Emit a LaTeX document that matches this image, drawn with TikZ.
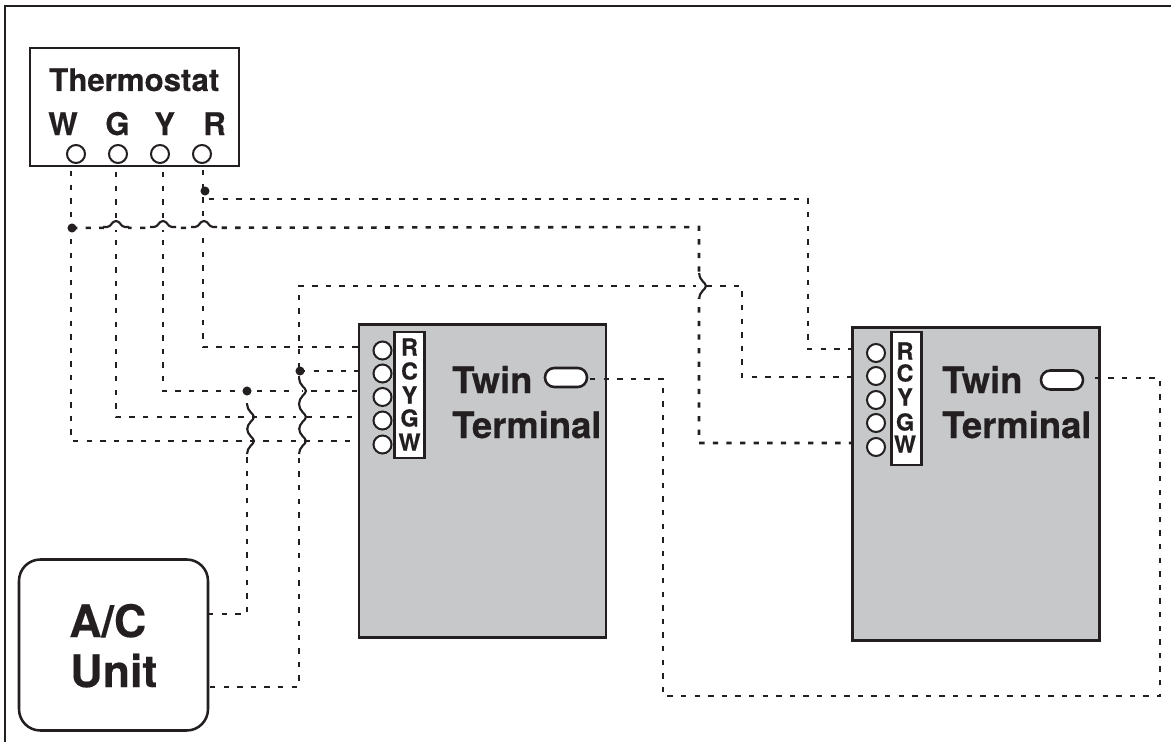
\documentclass[tikz,border=0pt]{standalone}
\usepackage{fontspec}
\setmainfont[BoldFeatures={FakeBold=0.35}]{TeX Gyre Heros}
\definecolor{ink}{HTML}{231F20}
\definecolor{panel}{HTML}{C6C8CA}
\newcommand{\vjump}[2]{%
  \fill[white] (#1-3,#2-12) rectangle (#1+3,#2+12);
  \draw[jump] (#1,#2-13) .. controls (#1,#2-6) and (#1+7,#2-3) .. (#1+7,#2) .. controls (#1+7,#2+3) and (#1,#2+6) .. (#1,#2+13);}
\newcommand{\hjump}[2]{%
  \fill[white] (#1-12,#2-3) rectangle (#1+12,#2+3);
  \draw[jump] (#1-13,#2) -- (#1-9,#2) .. controls (#1-5,#2) and (#1-4,#2-6) .. (#1,#2-6) .. controls (#1+4,#2-6) and (#1+5,#2) .. (#1+9,#2) -- (#1+13,#2);}
\tikzset{
  wire/.style={line width=1.9pt,ink,dash pattern=on 4pt off 6.2pt},
  jump/.style={line width=1.6pt,ink},
  boxed/.style={draw=ink,line width=1.9pt,inner sep=0pt,outer sep=0pt},
  port/.style={circle,draw=ink,fill=white,line width=1.5pt,minimum size=13.5pt,inner sep=0pt},
  dotmark/.style={circle,fill=ink,inner sep=0pt,minimum size=6.8pt},
  lab/.style={text=ink,font=\bfseries,inner sep=0pt,anchor=base west},
  big/.style={lab,font=\fontsize{27.3}{27}\selectfont\bfseries},
  huge/.style={lab,font=\fontsize{33.5}{33}\selectfont\bfseries},
  therm/.style={lab,font=\fontsize{23.4}{24}\selectfont\bfseries},
  pin/.style={text=ink,font=\fontsize{17.5}{18}\selectfont\bfseries,inner sep=0pt,anchor=center},
  panelbox/.style={boxed,fill=panel,minimum width=185.25pt,minimum height=234.75pt},
  strip/.style={boxed,fill=white,minimum width=22.5pt},
  slot/.style={boxed,fill=white,minimum width=31.5pt,minimum height=14.25pt,rounded corners=7pt},
}
\begin{document}
\begin{tikzpicture}[x=0.75pt,y=-0.75pt]
\useasboundingbox (0,0) rectangle (1171,742);
% frame
\coordinate (fa) at (5,742); \coordinate (fb) at (5,6); \coordinate (fc) at (1171,6);
\draw[line width=1.4pt,ink] (fa) -- (fb) -- (fc);
% thermostat
\node[boxed,fill=white,minimum width=156.75pt,minimum height=88.5pt] (thermo) at (134.5,107) {};
\node[therm] (ttitle) at (49,91) {Thermostat};
\node[therm] (lW) at (48,135) {W};
\node[therm] (lG) at (105,135) {G};
\node[therm] (lY) at (154,135) {Y};
\node[therm] (lR) at (203,135) {R};
\node[port] (tW) at (76,154) {};
\node[port] (tG) at (118,154) {};
\node[port] (tY) at (160,154) {};
\node[port] (tR) at (202,154) {};
% A/C
\node[boxed,fill=white,minimum width=141.75pt,minimum height=128.25pt,rounded corners=16pt] (acbox) at (113.5,645) {};
\node[huge] (ac1) at (69,637) {A/C};
\node[huge] (ac2) at (70,687) {Unit};
% terminal 1
\node[panelbox] (p1) at (482.5,481) {};
\node[strip,minimum height=94.5pt] (s1) at (409.5,395) {};
\node[port] (a1) at (382.5,350.5) {};
\node[port] (a2) at (382.5,373.5) {};
\node[port] (a3) at (382.5,397) {};
\node[port] (a4) at (382.5,420.5) {};
\node[port] (a5) at (382.5,444.5) {};
\node[pin] (ar) at (409.5,347) {R};
\node[pin] (ac) at (409.5,371) {C};
\node[pin] (ay) at (409.5,395) {Y};
\node[pin] (ag) at (409.5,418) {G};
\node[pin] (aw) at (409.5,442) {W};
\node[big] (at1) at (452,393) {Twin};
\node[big] (at2) at (452,438) {Terminal};
\node[slot] (slot1) at (566,377.5) {};
% terminal 2
\node[panelbox] (p2) at (976,484) {};
\node[strip,minimum height=99.75pt] (s2) at (906.5,398.5) {};
\node[port] (b1) at (876,353) {};
\node[port] (b2) at (876,376) {};
\node[port] (b3) at (876,400) {};
\node[port] (b4) at (876,423) {};
\node[port] (b5) at (876,447) {};
\node[pin] (br) at (905,351) {R};
\node[pin] (bc) at (905,373) {C};
\node[pin] (by) at (905,397) {Y};
\node[pin] (bg) at (905,422) {G};
\node[pin] (bw) at (905,444) {W};
\node[big] (bt1) at (942,393) {Twin};
\node[big] (bt2) at (942,438) {Terminal};
\node[slot] (slot2) at (1062,380) {};
% free ends
\coordinate (eW) at (71,171); \coordinate (eG) at (116,172); \coordinate (eY) at (163,172); \coordinate (eR) at (203,170);
\coordinate (aR) at (358,347); \coordinate (aC) at (358,371); \coordinate (aY) at (358,391); \coordinate (aG) at (358,417); \coordinate (aW) at (358,441);
\coordinate (bR) at (852,349); \coordinate (bC) at (852,377); \coordinate (bW) at (852,443);
\coordinate (acU) at (208,614); \coordinate (acL) at (210,687);
\coordinate (dW) at (72,228); \coordinate (dR) at (205,191); \coordinate (dC) at (300,371); \coordinate (dY) at (247,391);
\coordinate (rs) at (209,199); \coordinate (cw1) at (808,199); \coordinate (cw2) at (699,227); \coordinate (cw3) at (299,286); \coordinate (cw4) at (742,286);
\coordinate (lp0) at (590,379); \coordinate (lp1) at (663,379); \coordinate (lp2) at (663,696); \coordinate (lp3) at (1160,696); \coordinate (lp4) at (1160,378); \coordinate (lp5) at (1090,378);
% wires
\draw[wire] (eW) |- (aW);
\draw[wire] (eG) |- (aG);
\draw[wire] (eY) |- (aY);
\draw[wire] (eR) |- (aR);
\draw[wire] (dW) -- (cw2) |- (bW);
\draw[wire] (rs) -- (cw1) |- (bR);
\draw[wire] (acU) -| (dY);
\draw[wire] (acL) -| (cw3) -- (cw4) |- (bC);
\draw[wire] (dC) -- (aC);
\draw[wire] (lp0) -- (lp1) -- (lp2) -- (lp3) -- (lp4) -- (lp5);
% crossings
\hjump{116}{227}\hjump{163}{227}\hjump{204}{227}
\vjump{247}{417}\vjump{247}{441}
\vjump{299}{391}\vjump{299}{417}\vjump{299}{441}
\vjump{699}{286}
% junctions
\node[dotmark] (jW) at (dW) {};
\node[dotmark] (jR) at (dR) {};
\node[dotmark] (jC) at (dC) {};
\node[dotmark] (jY) at (dY) {};
\end{tikzpicture}
\end{document}
